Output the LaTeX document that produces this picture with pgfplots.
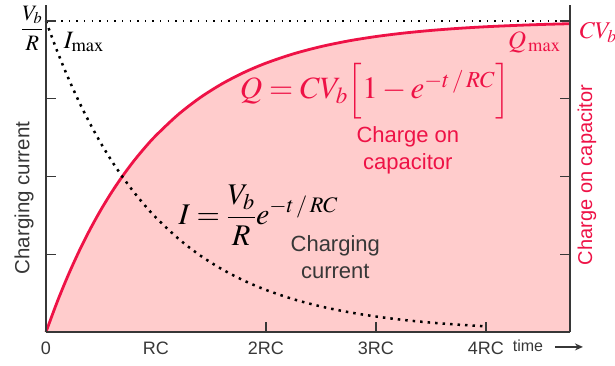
\documentclass[border=0pt]{standalone}
\usepackage{mathptmx}
\usepackage[no-math]{fontspec}
\setmainfont{Liberation Sans}
\usepackage{pgfplots}
\usepackage{pgfplotstable}
\usetikzlibrary{arrows.meta}
\pgfplotsset{compat=1.18}
\definecolor{qred}{RGB}{238,18,70}
\definecolor{qfill}{RGB}{255,204,204}
\definecolor{axgray}{RGB}{55,55,55}

\pgfplotstableread{
t q
0 0
0.1 0.0952
0.2 0.1813
0.3 0.2592
0.4 0.3297
0.5 0.3935
0.6 0.4512
0.7 0.5034
0.8 0.5507
0.9 0.5934
1.0 0.6321
1.2 0.6988
1.4 0.7534
1.6 0.7981
1.8 0.8347
2.0 0.8647
2.25 0.8946
2.5 0.9179
2.75 0.9361
3.0 0.9502
3.25 0.9612
3.5 0.9698
3.75 0.9765
4.0 0.9817
4.25 0.9857
4.5 0.9889
4.764 0.9915
}\qdata

\pgfplotstableread{
t i
0 1
0.1 0.9048
0.2 0.8187
0.3 0.7408
0.4 0.6703
0.5 0.6065
0.6 0.5488
0.7 0.4966
0.8 0.4493
0.9 0.4066
1.0 0.3679
1.2 0.3012
1.4 0.2466
1.6 0.2019
1.8 0.1653
2.0 0.1353
2.25 0.1054
2.5 0.0821
2.75 0.0639
3.0 0.0498
3.25 0.0388
3.5 0.0302
3.75 0.0235
4.0 0.0183
}\idata

\begin{document}
\begin{tikzpicture}
\begin{axis}[name=ax, scale only axis, width=524pt, height=326.5pt,
  xmin=0, xmax=4.764, ymin=0, ymax=1.05,
  axis x line*=bottom, axis y line*=left,
  axis line style={-, draw=axgray, line width=1.3pt},
  tick align=inside, major tick length=10pt,
  tick style={axgray, line width=1.2pt},
  xtick={0,2,3,4}, xticklabels={0,2RC,3RC,4RC},
  extra x ticks={1}, extra x tick labels={RC},
  extra x tick style={major tick length=0pt},
  ytick={0.25,0.5,0.75,1}, yticklabels={,,,{$\displaystyle\frac{V_b}{R}$}},
  xticklabel style={font=\fontsize{18}{18}\selectfont, text=axgray, yshift=-6pt},
  yticklabel style={font=\fontsize{22}{22}\selectfont, xshift=1pt, yshift=-7pt},
  clip=false, axis on top]
\addplot[draw=none, fill=qfill] table[x=t, y=q] {\qdata} \closedcycle;
\addplot[qred, line width=2.8pt, smooth] table[x=t, y=q] {\qdata};
\addplot[black, line width=1.4pt, dash pattern=on 1.4pt off 6.2pt] coordinates {(0,1) (4.764,1)};
\addplot[black, line width=2.5pt, dash pattern=on 2.5pt off 5pt, smooth] table[x=t, y=i] {\idata};

\node[anchor=base west, font=\fontsize{25}{25}\selectfont] at (axis cs:0.13,0.913) {$I_{\mathrm{max}}$};
\node[anchor=base east, text=qred, font=\fontsize{25}{25}\selectfont] at (axis cs:4.71,0.913) {$Q_{\,\mathrm{max}}$};
\node[anchor=base west, text=qred, font=\fontsize{24}{24}\selectfont] at (axis cs:4.82,0.945) {$CV_b$};
\node[inner sep=0pt, text=qred, font=\fontsize{31}{31}\selectfont] at (axis cs:2.99,0.775) {$Q=CV_b\Bigl[1-e^{-t\,/\,RC}\Bigr]$};
\node[inner sep=0pt, text=qred, align=center, font=\fontsize{22}{27}\selectfont] at (axis cs:3.29,0.585) {Charge on\\capacitor};
\node[font=\fontsize{30}{30}\selectfont] at (axis cs:1.93,0.376) {$I=\displaystyle\frac{V_b}{R}e^{-t\,/\,RC}$};
\node[text=axgray, align=center, font=\fontsize{22}{27}\selectfont] at (axis cs:2.63,0.241) {Charging\\current};
\node[rotate=90, text=axgray, font=\fontsize{20.5}{20.5}\selectfont] at (axis cs:-0.2,0.431) {Charging current};
\node[rotate=90, text=qred, font=\fontsize{20}{20}\selectfont] at (axis cs:4.918,0.505) {Charge on capacitor};
\node[text=axgray, font=\fontsize{16}{16}\selectfont] at (axis cs:4.382,-0.045) {time};
\draw[axgray, line width=1.8pt, -{Stealth[length=8pt,width=7pt]}] (axis cs:4.627,-0.048) -- (axis cs:4.882,-0.048);
\end{axis}
\begin{axis}[scale only axis, width=524pt, height=326.5pt,
  xmin=0, xmax=4.764, ymin=0, ymax=1.05,
  axis x line=none, axis y line*=right,
  axis line style={-, draw=axgray, line width=1.3pt},
  tick align=inside, major tick length=10pt,
  tick style={axgray, line width=1.2pt},
  xtick=\empty, ytick={0.25,0.5,0.75,1}, yticklabels={}]
\end{axis}
\pgfresetboundingbox
\path (-46pt,-33pt) rectangle (569pt,332pt);
\end{tikzpicture}
\end{document}
